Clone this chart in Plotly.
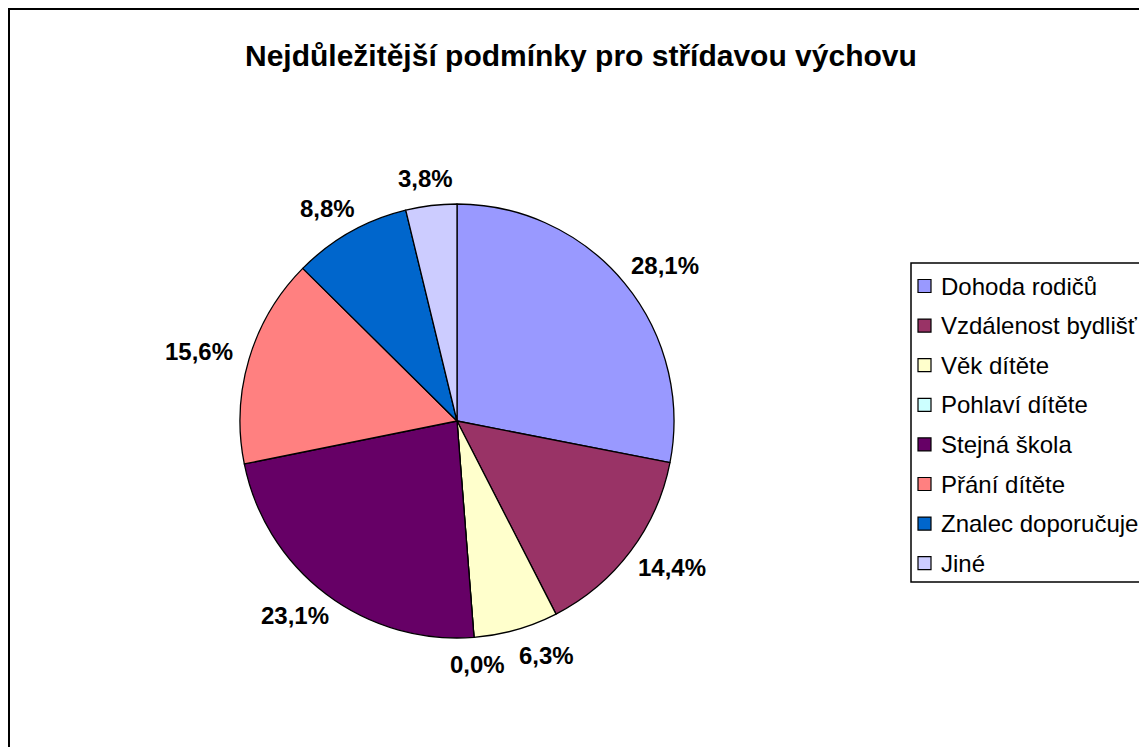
import math
import plotly.graph_objects as go

labels = ["Dohoda rodičů", "Vzdálenost bydlišť", "Věk dítěte", "Pohlaví dítěte",
          "Stejná škola", "Přání dítěte", "Znalec doporučuje", "Jiné"]
values = [28.1, 14.4, 6.3, 0.0, 23.1, 15.6, 8.8, 3.8]
colors = ["#9999FF", "#993366", "#FFFFCC", "#CCFFFF", "#660066", "#FF8080", "#0066CC", "#CCCCFF"]
title = "Nejdůležitější podmínky pro střídavou výchovu"

W, H = 1147, 747
OFF = 8  # page body margin
FONT = "Liberation Sans, Arial, sans-serif"
LABEL_SIZE = 24

# pie geometry in page pixels
cx, cy, r = 457, 421, 217


def px(x):
    return (x - OFF) / W


def py(y):
    return 1 - (y - OFF) / H


fig = go.Figure()
fig.add_trace(go.Pie(
    labels=labels, values=values, sort=False, direction="clockwise", rotation=0,
    marker=dict(colors=colors, line=dict(color="black", width=1.3)),
    textinfo="none", hoverinfo="label+percent", showlegend=False,
    domain=dict(x=[px(cx - r), px(cx + r)], y=[py(cy + r), py(cy - r)]),
))

annotations = []
shapes = []

# data labels placed outside the pie (Excel "outside end" style)
total = sum(values)
texts = [f"{v:.1f}%".replace(".", ",") for v in values]
boxes = []
cum = 0.0
for v, t in zip(values, texts):
    mid = (cum + v / 2) / total * 2 * math.pi
    cum += v
    s, c = math.sin(mid), -math.cos(mid)
    ndig = sum(ch.isdigit() for ch in t)
    w = LABEL_SIZE * (0.556 * ndig + 0.278 + 0.889)
    h = 18
    ax = cx + 235 * s
    ay = cy + 235 * c
    boxes.append([ax + s * w / 2, ay + c * h / 2, w, h, s])

# simple collision avoidance between neighbouring labels
for i in range(len(boxes) - 1):
    a, b = boxes[i], boxes[i + 1]
    ox = (a[2] + b[2]) / 2 - abs(a[0] - b[0])
    oy = (a[3] + b[3]) / 2 + 6 - abs(a[1] - b[1])
    if ox > -14 and oy > 0:
        a[0] += math.copysign(ox + 14, a[4])

for (bx, by, w, h, s), t in zip(boxes, texts):
    annotations.append(dict(
        x=px(bx), y=py(by), xref="paper", yref="paper", showarrow=False,
        text=f"<b>{t}</b>",
        font=dict(family=FONT, size=LABEL_SIZE, color="black"),
        xanchor="center", yanchor="middle",
    ))

# title
annotations.append(dict(
    x=px(581), y=py(55), xref="paper", yref="paper", showarrow=False,
    text=f"<b>{title}</b>", font=dict(family=FONT, size=30, color="black"),
    xanchor="center", yanchor="middle",
))

# chart frame
shapes.append(dict(type="rect", xref="paper", yref="paper",
                   x0=px(9), x1=px(W + 30), y0=py(H + 30), y1=py(9),
                   line=dict(color="black", width=2), fillcolor="rgba(0,0,0,0)"))

# legend box
lx0, ly0, ly1 = 911, 263, 582
shapes.append(dict(type="rect", xref="paper", yref="paper",
                   x0=px(lx0), x1=px(W + 30), y0=py(ly1), y1=py(ly0),
                   line=dict(color="black", width=1.5), fillcolor="white"))
step = 39.6
for i, (lab, col) in enumerate(zip(labels, colors)):
    yc = 286 + i * step
    shapes.append(dict(type="rect", xref="paper", yref="paper",
                       x0=px(918), x1=px(931), y0=py(yc + 6.5), y1=py(yc - 6.5),
                       line=dict(color="black", width=1.2), fillcolor=col))
    annotations.append(dict(
        x=px(939), y=py(yc), xref="paper", yref="paper", showarrow=False,
        text=lab, font=dict(family=FONT, size=24, color="black"),
        xanchor="left", yanchor="middle",
    ))

fig.update_layout(
    width=W, height=H, margin=dict(l=0, r=0, t=0, b=0),
    paper_bgcolor="white", plot_bgcolor="white",
    annotations=annotations, shapes=shapes,
)
fig.write_html("out.html")
